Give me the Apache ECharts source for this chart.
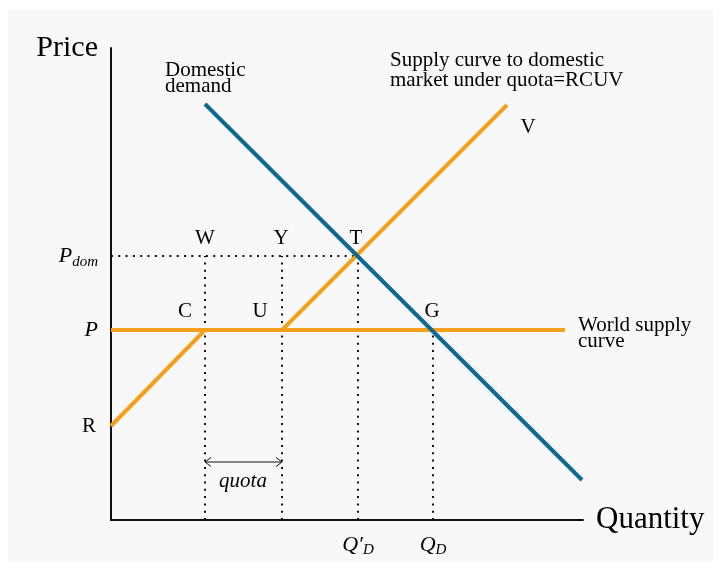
<!DOCTYPE html>
<html>
<head>
<meta charset="utf-8">
<script src="https://cdn.jsdelivr.net/npm/echarts@6/dist/echarts.min.js"></script>
<style>
  html, body { margin: 0; padding: 0; background: #ffffff; }
  #chart { width: 719px; height: 569px; }
</style>
</head>
<body>
<div id="chart"></div>
<script>
// Import quota diagram: domestic demand, world supply and the quota-constrained supply RCUV.
const FONT = '"Liberation Serif", "Times New Roman", serif';
const INK = '#000';

// Price levels (vertical axis units)
const priceR = 9.4;
const priceP = 19;
const priceDom = 26.4;

// Quantities (horizontal axis units)
const qtyC = 9.4;     // import start under world price
const qtyU = 17.1;    // quota end
const qtyT = 24.7;    // Q'_D
const qtyG = 32.2;    // Q_D

// Domestic demand curve
const demandX = [9.4, 47.1];
const demandY = [41.6, 4.0];

// Supply to domestic market under quota: R -> C -> U -> V
const quotaSupplyX = [0, qtyC, qtyU, 39.6];
const quotaSupplyY = [priceR, priceP, priceP, 41.5];

// World supply curve (flat at world price)
const worldSupplyX = [0, 45.4];
const worldSupplyY = [priceP, priceP];

// Quota bracket height
const quotaArrowY = 5.8;

// Point letters and their anchor positions
const letterNames = ['W', 'Y', 'T', 'C', 'U', 'G', 'V'];
const letterX = [9.4, 17.0, 24.5, 7.4, 14.9, 32.1, 41.7];
const letterY = [28.2, 28.2, 28.2, 20.9, 20.9, 20.9, 39.3];

const ORANGE = '#F5A01C';
const BLUE = '#0C6A92';
const zip = (xs, ys) => xs.map((x, i) => [x, ys[i]]);

const dotted = { color: '#111', width: 2, type: [2, 5.3] };
// text-only scatter layer (no visible symbol, full opacity)
const textLayer = { type: 'scatter', symbolSize: 0, z: 6, clip: false, itemStyle: { opacity: 1 } };

const chart = echarts.init(document.getElementById('chart'), null, { renderer: 'canvas' });

const option = {
  backgroundColor: '#ffffff',
  animation: false,
  graphic: [{
    type: 'rect', z: -10, silent: true,
    shape: { x: 8, y: 10, width: 705, height: 552 },
    style: { fill: '#f8f8f8' }
  }],
  grid: { left: 111, top: 48, width: 472, height: 472, containLabel: false },
  xAxis: {
    type: 'value', min: 0, max: 47.2,
    name: 'Quantity', nameLocation: 'end', nameGap: 13,
    nameTextStyle: { fontFamily: FONT, fontSize: 31, color: INK, verticalAlign: 'middle', padding: [0, 0, 56, 0] },
    axisLine: { lineStyle: { color: '#111', width: 2 } },
    axisTick: { show: false }, axisLabel: { show: false }, splitLine: { show: false }
  },
  yAxis: {
    type: 'value', min: 0, max: 47.2,
    name: 'Price', nameLocation: 'end', nameGap: 0,
    nameTextStyle: { fontFamily: FONT, fontSize: 30, color: INK, align: 'right', verticalAlign: 'middle', padding: [0, 13, 0, 0] },
    axisLine: { lineStyle: { color: '#111', width: 2 } },
    axisTick: { show: false }, axisLabel: { show: false }, splitLine: { show: false }
  },
  series: [
    // dotted guide lines
    { type: 'line', data: [[0, priceDom], [qtyT, priceDom]], symbol: 'none', lineStyle: dotted, z: 1 },
    { type: 'line', data: [[qtyC, 0], [qtyC, priceDom]], symbol: 'none', lineStyle: dotted, z: 1 },
    { type: 'line', data: [[qtyU, 0], [qtyU, priceDom]], symbol: 'none', lineStyle: dotted, z: 1 },
    { type: 'line', data: [[qtyT, 0], [qtyT, priceDom]], symbol: 'none', lineStyle: dotted, z: 1 },
    { type: 'line', data: [[qtyG, 0], [qtyG, priceP]], symbol: 'none', lineStyle: dotted, z: 1 },
    // supply curves
    { type: 'line', data: zip(worldSupplyX, worldSupplyY), symbol: 'none', lineStyle: { color: ORANGE, width: 4 }, z: 3 },
    { type: 'line', data: zip(quotaSupplyX, quotaSupplyY), symbol: 'none', lineStyle: { color: ORANGE, width: 4, join: 'miter' }, z: 3 },
    // demand
    { type: 'line', data: zip(demandX, demandY), symbol: 'none', lineStyle: { color: BLUE, width: 4 }, z: 4 },
    // quota double arrow
    {
      type: 'custom', z: 5,
      data: [[qtyC, qtyU, quotaArrowY]],
      renderItem: function (params, api) {
        const a = api.coord([api.value(0), api.value(2)]);
        const b = api.coord([api.value(1), api.value(2)]);
        const h = 4.5, w = 6;
        const st = { stroke: '#111', lineWidth: 1, fill: null };
        return {
          type: 'group', children: [
            { type: 'line', shape: { x1: a[0], y1: a[1], x2: b[0], y2: b[1] }, style: st },
            { type: 'polyline', shape: { points: [[a[0] + w, a[1] - h], [a[0], a[1]], [a[0] + w, a[1] + h]] }, style: st },
            { type: 'polyline', shape: { points: [[b[0] - w, b[1] - h], [b[0], b[1]], [b[0] - w, b[1] + h]] }, style: st }
          ]
        };
      }
    },
    // point letters
    Object.assign({}, textLayer, {
      data: letterNames.map((n, i) => ({ name: n, value: [letterX[i], letterY[i]] })),
      label: { show: true, position: 'inside', formatter: '{b}', fontFamily: FONT, fontSize: 21, color: INK }
    }),
    // vertical-axis labels
    Object.assign({}, textLayer, {
      data: [
        { value: [-1.3, priceP], label: { formatter: '{i|P}' } },
        { value: [-1.3, priceDom], label: { formatter: '{i|P}{s|dom}' } },
        { value: [-1.5, priceR], label: { formatter: '{n|R}' } }
      ],
      label: {
        show: true, position: 'inside', align: 'right', verticalAlign: 'middle',
        rich: {
          i: { fontFamily: FONT, fontStyle: 'italic', fontSize: 22, color: INK },
          s: { fontFamily: FONT, fontStyle: 'italic', fontSize: 15, color: INK, padding: [12, 0, 0, 0] },
          n: { fontFamily: FONT, fontSize: 21, color: INK }
        }
      }
    }),
    // horizontal-axis labels
    Object.assign({}, textLayer, {
      data: [
        { value: [qtyT, -2.5], label: { formatter: '{i|Q′}{s|D}' } },
        { value: [qtyG, -2.5], label: { formatter: '{i|Q}{s|D}' } }
      ],
      label: {
        show: true, position: 'inside', align: 'center', verticalAlign: 'middle',
        rich: {
          i: { fontFamily: FONT, fontStyle: 'italic', fontSize: 22, color: INK },
          s: { fontFamily: FONT, fontStyle: 'italic', fontSize: 15, color: INK, padding: [10, 0, 0, 0] }
        }
      }
    }),
    // curve captions
    Object.assign({}, textLayer, {
      data: [
        { value: [5.4, 44.2], label: { formatter: 'Domestic\ndemand' } },
        { value: [27.9, 45.0], label: { formatter: 'Supply curve to domestic\nmarket under quota=RCUV', lineHeight: 20 } },
        { value: [46.7, 18.7], label: { formatter: 'World supply\ncurve' } },
        { value: [13.2, 3.9], label: { formatter: 'quota', fontStyle: 'italic', align: 'center' } }
      ],
      label: {
        show: true, position: 'inside', align: 'left', verticalAlign: 'middle',
        fontFamily: FONT, fontSize: 21, lineHeight: 16, color: INK
      }
    })
  ]
};

chart.setOption(option);
</script>
</body>
</html>
